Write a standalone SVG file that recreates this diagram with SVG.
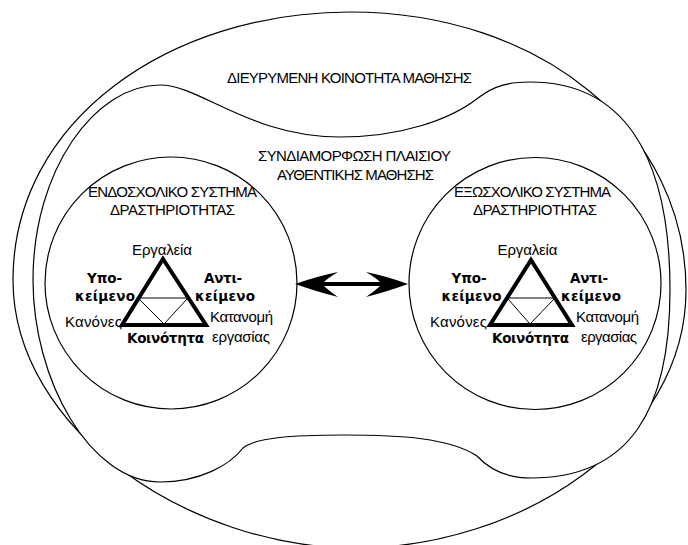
<svg xmlns="http://www.w3.org/2000/svg" width="688" height="545" viewBox="0 0 688 545">
<style>
.shape{fill:#fff;stroke:#000;stroke-width:1.2}
.t{font-family:"Liberation Sans",Arial,sans-serif;font-size:15px;fill:#000}
.b{font-family:"DejaVu Sans","Liberation Sans",sans-serif;font-size:13.5px;font-weight:bold;fill:#000}
.tri{fill:none;stroke:#000;stroke-width:4;stroke-linejoin:miter}
.inner{fill:none;stroke:#000;stroke-width:1}
</style>
<rect width="688" height="545" fill="#fff"/>
<g id="community">
<path class="shape" d="M350,12 C540,12 686,130 686,290 C686,440 520,548 355,548 C190,548 13,430 13,280 C13,120 170,12 350,12 Z"/>
<text class="t" x="349.5" y="83" text-anchor="middle" textLength="245">ΔΙΕΥΡΥΜΕΝΗ ΚΟΙΝΟΤΗΤΑ ΜΑΘΗΣΗΣ</text>
</g>
<g id="context">
<path class="shape" d="M33,280 C33,170 95,85 160,85 C200,85 250,137 340,137 C400,137 450,120 478,98 C495,85 510,82 530,82 C620,82 670,150 670,290 C670,410 630,478 531,478 C505,478 488,468 477,456 C450,438 400,435 344,435 C290,435 255,438 243,448 C230,465 200,482 160,482 C90,482 33,380 33,280 Z"/>
<text class="t" x="354.5" y="161" text-anchor="middle" textLength="193">ΣΥΝΔΙΑΜΟΡΦΩΣΗ ΠΛΑΙΣΙΟΥ</text>
<text class="t" x="355.5" y="180" text-anchor="middle" textLength="157">ΑΥΘΕΝΤΙΚΗΣ ΜΑΘΗΣΗΣ</text>
</g>
<g id="school">
<circle class="shape" cx="171" cy="283" r="126"/>
<text class="t" x="172.5" y="197" text-anchor="middle" textLength="169">ΕΝΔΟΣΧΟΛΙΚΟ ΣΥΣΤΗΜΑ</text>
<text class="t" x="172.5" y="215" text-anchor="middle" textLength="125">ΔΡΑΣΤΗΡΙΟΤΗΤΑΣ</text>
<path class="tri" d="M163,259 L206,325 L122,325 Z"/>
<path class="inner" d="M138,298 H188 M139,299 L164,324 L187,299"/>
<text class="t" x="162" y="255" text-anchor="middle" textLength="60">Εργαλεία</text>
<text class="b" x="104.5" y="283" text-anchor="middle" textLength="35">Υπο-</text>
<text class="b" x="105" y="301" text-anchor="middle" textLength="60">κείμενο</text>
<text class="b" x="223" y="283" text-anchor="middle" textLength="38">Αντι-</text>
<text class="b" x="225" y="301" text-anchor="middle" textLength="60">κείμενο</text>
<text class="t" x="122" y="327" text-anchor="end" textLength="57">Κανόνες</text>
<text class="b" x="165.5" y="343" text-anchor="middle" textLength="77">Κοινότητα</text>
<text class="t" x="210" y="322" textLength="63">Κατανομή</text>
<text class="t" x="212" y="342" textLength="58">εργασίας</text>
</g>
<g id="outofschool">
<circle class="shape" cx="535" cy="283.5" r="126"/>
<text class="t" x="532.5" y="197" text-anchor="middle" textLength="157">ΕΞΩΣΧΟΛΙΚΟ ΣΥΣΤΗΜΑ</text>
<text class="t" x="535" y="215" text-anchor="middle" textLength="124">ΔΡΑΣΤΗΡΙΟΤΗΤΑΣ</text>
<path class="tri" d="M531,260 L572,325 L490,325 Z"/>
<path class="inner" d="M507,298 H555 M508,299 L530,324 L554,299"/>
<text class="t" x="527.5" y="255" text-anchor="middle" textLength="60">Εργαλεία</text>
<text class="b" x="469" y="283" text-anchor="middle" textLength="35">Υπο-</text>
<text class="b" x="471.5" y="301" text-anchor="middle" textLength="60">κείμενο</text>
<text class="b" x="589" y="283" text-anchor="middle" textLength="38">Αντι-</text>
<text class="b" x="591" y="301" text-anchor="middle" textLength="60">κείμενο</text>
<text class="t" x="487" y="327" text-anchor="end" textLength="57">Κανόνες</text>
<text class="b" x="530.5" y="343" text-anchor="middle" textLength="77">Κοινότητα</text>
<text class="t" x="576" y="322" textLength="63">Κατανομή</text>
<text class="t" x="581" y="342" textLength="56">εργασίας</text>
</g>
<g id="connectors">
<path d="M295,284 Q318,276 338,272 Q328,278 324,282 L380,282 Q376,278 366,272 Q386,276 408,284 Q386,292 366,297 Q376,290 380,286 L324,286 Q328,290 338,297 Q318,292 295,284 Z" fill="#000"/>
</g>
</svg>
